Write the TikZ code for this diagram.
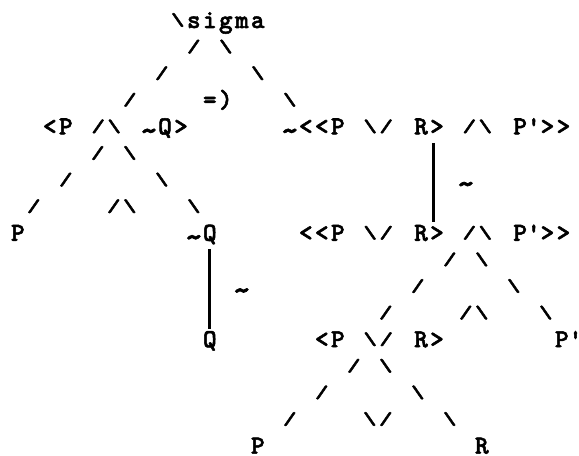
\documentclass[tikz,border=0pt]{standalone}
\usepackage{fontspec}
\usepackage{graphicx}
\newfontfamily\asc{lmmonolt10-bold.otf}[Ligatures=TeXOff, FakeBold=2, LetterSpace=9.04, WordSpace=1.1722]
\usepackage{tikz}
\newcommand\cellbox[1]{\makebox[16pt][l]{\makebox[13.65pt][c]{#1}}}
\newcommand\bsl{\cellbox{\raisebox{2.5pt}{\scalebox{1}[0.69]{\textbackslash}}}}
\newcommand\fsl{\cellbox{\raisebox{2.5pt}{\scalebox{1}[0.69]{/}}}}
\newcommand\tld{\cellbox{\raisebox{-6pt}{\scalebox{1.4}[1.2]{\textasciitilde}}}}
\newcommand\apos{\textquotesingle}

\begin{document}
\begin{tikzpicture}[x=16pt, y=-26.6pt, every node/.style={anchor=base west, inner sep=0pt, outer sep=0pt, font=\asc\fontsize{26}{28}\selectfont}]
\useasboundingbox (-0.6875,-1.0526) rectangle (35.5,16.053);

\node (sigma) at (10,0) {\bsl sigma};
\node (e1) at (11,1) {\fsl};
\node (e2) at (13,1) {\bsl};
\node (e3) at (9,2) {\fsl};
\node (e4) at (15,2) {\bsl};
\node (e5) at (7,3) {\fsl};
\node (eq) at (12,3) {=)};
\node (e6) at (17,3) {\bsl};

\node (conj) at (2,4) {<P \fsl\bsl{} \tld Q>};
\node (negr) at (17,4) {\tld<<P \bsl\fsl{} R> \fsl\bsl{} P\apos>>};
\node (e7) at (5,5) {\fsl};
\node (e8) at (7,5) {\bsl};
\node (e9) at (3,6) {\fsl};
\node (e10) at (9,6) {\bsl};
\node (tl1) at (28,6) {\tld};
\node (e11) at (1,7) {\fsl};
\node (e12) at (6,7) {\fsl\bsl};
\node (e13) at (11,7) {\bsl};

\node (p1) at (0,8) {P};
\node (negq) at (11,8) {\tld Q};
\node (orpp) at (18,8) {<<P \bsl\fsl{} R> \fsl\bsl{} P\apos>>};
\node (e14) at (27,9) {\fsl};
\node (e15) at (29,9) {\bsl};
\node (tl2) at (14,10) {\tld};
\node (e16) at (25,10) {\fsl};
\node (e17) at (31,10) {\bsl};
\node (e18) at (23,11) {\fsl};
\node (e19) at (28,11) {\fsl\bsl};
\node (e20) at (33,11) {\bsl};

\node (q) at (12,12) {Q};
\node (disj) at (19,12) {<P \bsl\fsl{} R>};
\node (pp) at (34,12) {P\apos};
\node (e21) at (21,13) {\fsl};
\node (e22) at (23,13) {\bsl};
\node (e23) at (19,14) {\fsl};
\node (e24) at (25,14) {\bsl};
\node (e25) at (17,15) {\fsl};
\node (e26) at (22,15) {\bsl\fsl};
\node (e27) at (27,15) {\bsl};
\node (p2) at (15,16) {P};
\node (r) at (29,16) {R};

\coordinate (bar1) at (26.4,0);
\coordinate (bar2) at (12.4,0);
\draw[line width=2.4pt, shorten <=8.5pt, shorten >=18.5pt] (negr.base -| bar1) -- (orpp.base -| bar1);
\draw[line width=2.4pt, shorten <=8.5pt, shorten >=18.5pt] (negq.base -| bar2) -- (q.base -| bar2);
\end{tikzpicture}
\end{document}
